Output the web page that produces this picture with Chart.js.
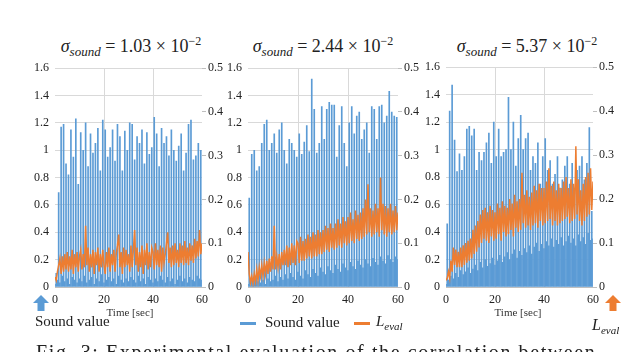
<!DOCTYPE html>
<html>
<head>
<meta charset="utf-8">
<script src="https://cdn.jsdelivr.net/npm/chart.js@4.4.1/dist/chart.umd.min.js"></script>
<style>
  body { margin: 0; width: 640px; height: 352px; overflow: hidden; background: #fff; position: relative; font-family: "Liberation Serif", serif; color: #222; }
  canvas { position: absolute; }
  .title { position: absolute; top: 34px; font-size: 18px; white-space: nowrap; transform: translateX(-50%); }
  .title sub { font-size: 13px; font-style: italic; vertical-align: -4px; }
  .title sup { font-size: 12px; vertical-align: 7px; }
  .xlabel { position: absolute; top: 306px; font-size: 11px; transform: translateX(-50%); color: #333; }
  .txt { position: absolute; white-space: nowrap; }
  .swatch { position: absolute; height: 3px; width: 16px; }
</style>
</head>
<body>

<div class="title" style="left:131px"><i>σ</i><sub>sound</sub> = 1.03 × 10<sup>−2</sup></div>
<div class="title" style="left:323px"><i>σ</i><sub>sound</sub> = 2.44 × 10<sup>−2</sup></div>
<div class="title" style="left:527px"><i>σ</i><sub>sound</sub> = 5.37 × 10<sup>−2</sup></div>

<canvas id="c1" width="219" height="256" style="left:19px; top:55px"></canvas>
<canvas id="c2" width="222" height="256" style="left:212px; top:55px"></canvas>
<canvas id="c3" width="219" height="257" style="left:410px; top:54px"></canvas>

<div class="xlabel" style="left:130px">Time [sec]</div>
<div class="xlabel" style="left:518px">Time [sec]</div>

<svg class="txt" style="left:32px; top:294px" width="18" height="18">
  <polygon points="9,1 17,9 12.5,9 12.5,17 5.5,17 5.5,9 1,9" fill="#5b9bd5"/>
</svg>
<div class="txt" style="left:35px; top:313px; font-size:15px">Sound value</div>

<div class="swatch" style="left:240px; top:322px; background:#5b9bd5"></div>
<div class="txt" style="left:265px; top:314px; font-size:15px">Sound value</div>
<div class="swatch" style="left:354px; top:322px; background:#ed7d31"></div>
<div class="txt" style="left:376px; top:313px; font-size:15px"><i>L</i><sub style="font-size:11px"><i>eval</i></sub></div>

<svg class="txt" style="left:604px; top:294px" width="18" height="18">
  <polygon points="9,1 17,9 12.5,9 12.5,17 5.5,17 5.5,9 1,9" fill="#ed7d31"/>
</svg>
<div class="txt" style="left:592px; top:316px; font-size:16px"><i>L</i><sub style="font-size:11px"><i>eval</i></sub></div>

<div class="txt" style="left:36px; top:341px; font-size:20px; letter-spacing:1.6px">Fig. 3: Experimental evaluation of the correlation between</div>

<script>
// sound value: small values at every full second, peaks in between (left axis)
const soundLows1 = [0.02, 0.05, 0.03, 0.08, 0.04, 0.06, 0.02, 0.07, 0.05, 0.03,
  0.06, 0.04, 0.08, 0.03, 0.05, 0.07, 0.02, 0.06, 0.04, 0.09,
  0.03, 0.05, 0.07, 0.04, 0.06, 0.02, 0.08, 0.05, 0.03, 0.06,
  0.04, 0.07, 0.05, 0.03, 0.08, 0.04, 0.06, 0.02, 0.07, 0.05,
  0.03, 0.06, 0.04, 0.08, 0.05, 0.03, 0.07, 0.04, 0.06, 0.02,
  0.05, 0.08, 0.04, 0.06, 0.03, 0.07, 0.05, 0.04, 0.08, 0.06, 0.05];
const soundPeaks1 = [0.1, 0.69, 1.17, 1.19, 0.9, 0.82, 1.15, 0.95, 1.23, 0.75,
  1.13, 1.0, 1.2, 0.88, 1.12, 0.98, 1.05, 1.16, 0.85, 1.22,
  1.15, 0.95, 1.02, 1.15, 0.92, 1.19, 1.1, 0.85, 1.14, 1.0,
  1.2, 1.19, 0.93, 1.1, 1.05, 1.15, 0.9, 1.13, 0.97, 1.02,
  1.24, 1.12, 0.88, 1.16, 1.05, 1.1, 0.96, 1.15, 1.0, 0.92,
  1.03, 1.12, 0.85, 0.98, 1.19, 1.22, 0.93, 0.96, 1.05, 1.0];

const soundLows2 = [0.02, 0.01, 0.03, 0.02, 0.04, 0.03, 0.05, 0.02, 0.06, 0.04,
  0.05, 0.08, 0.04, 0.07, 0.05, 0.09, 0.06, 0.1, 0.07, 0.05,
  0.11, 0.08, 0.06, 0.12, 0.09, 0.07, 0.13, 0.1, 0.08, 0.14,
  0.11, 0.09, 0.15, 0.12, 0.1, 0.16, 0.13, 0.11, 0.17, 0.14,
  0.12, 0.18, 0.15, 0.13, 0.19, 0.16, 0.14, 0.2, 0.17, 0.15,
  0.21, 0.18, 0.16, 0.22, 0.19, 0.17, 0.23, 0.2, 0.18, 0.22, 0.2];
const soundPeaks2 = [0.65, 0.97, 1.0, 0.85, 0.88, 1.05, 1.19, 1.22, 1.0, 1.05,
  1.12, 0.98, 1.15, 1.2, 1.0, 0.9, 1.08, 1.05, 1.0, 0.95,
  1.12, 0.97, 1.06, 1.18, 0.99, 1.52, 1.3, 0.98, 1.05, 1.32,
  1.08, 1.3, 1.35, 1.33, 1.33, 0.95, 1.18, 1.32, 1.05, 0.88,
  1.2, 1.32, 1.12, 1.25, 1.28, 1.08, 1.15, 1.2, 0.98, 1.32,
  1.3, 1.08, 1.32, 1.33, 1.2, 1.25, 1.43, 1.28, 1.25, 1.24];

const soundLows3 = [0.02, 0.05, 0.08, 0.06, 0.1, 0.07, 0.12, 0.09, 0.11, 0.14,
  0.1, 0.13, 0.16, 0.12, 0.18, 0.14, 0.2, 0.15, 0.17, 0.21,
  0.16, 0.19, 0.23, 0.18, 0.22, 0.25, 0.2, 0.24, 0.27, 0.21,
  0.26, 0.23, 0.28, 0.25, 0.3, 0.24, 0.29, 0.32, 0.26, 0.31,
  0.28, 0.33, 0.3, 0.35, 0.29, 0.34, 0.31, 0.36, 0.3, 0.33,
  0.37, 0.32, 0.35, 0.3, 0.38, 0.33, 0.36, 0.31, 0.39, 0.34, 0.35];
const soundPeaks3 = [0.46, 1.28, 1.47, 1.07, 0.84, 0.97, 0.85, 0.95, 1.15, 1.17,
  1.1, 1.15, 0.85, 0.98, 0.92, 0.98, 1.05, 1.12, 0.9, 1.2,
  0.95, 1.15, 0.95, 0.98, 1.0, 1.38, 1.0, 1.2, 0.88, 1.08,
  1.25, 1.0, 1.08, 1.12, 0.85, 0.95, 0.9, 1.05, 0.75, 0.95,
  1.08, 0.85, 0.92, 0.75, 0.82, 0.95, 0.72, 0.78, 0.88, 0.95,
  0.75, 0.9, 0.72, 0.85, 0.88, 0.95, 0.78, 0.9, 1.16, 0.55];

// L_eval every 0.5 sec (right axis)
const lEval1 = [0.023, 0.015, 0.035, 0.05, 0.065, 0.03, 0.07, 0.035, 0.075, 0.04,
  0.08, 0.035, 0.07, 0.04, 0.085, 0.03, 0.075, 0.045, 0.08, 0.035,
  0.07, 0.085, 0.04, 0.075, 0.045, 0.14, 0.05, 0.09, 0.035, 0.075,
  0.045, 0.085, 0.03, 0.08, 0.05, 0.09, 0.035, 0.075, 0.045, 0.085,
  0.05, 0.03, 0.08, 0.045, 0.09, 0.035, 0.075, 0.05, 0.085, 0.035,
  0.075, 0.095, 0.12, 0.045, 0.08, 0.03, 0.09, 0.045, 0.085, 0.05,
  0.075, 0.035, 0.095, 0.045, 0.085, 0.13, 0.05, 0.09, 0.035, 0.08,
  0.045, 0.095, 0.03, 0.085, 0.05, 0.1, 0.04, 0.08, 0.045, 0.09,
  0.08, 0.04, 0.1, 0.05, 0.085, 0.045, 0.095, 0.035, 0.09, 0.055,
  0.075, 0.1, 0.125, 0.055, 0.09, 0.045, 0.095, 0.05, 0.1, 0.055,
  0.085, 0.045, 0.1, 0.055, 0.095, 0.05, 0.105, 0.055, 0.09, 0.05,
  0.1, 0.06, 0.095, 0.055, 0.11, 0.065, 0.105, 0.07, 0.13, 0.075, 0.1];

const lEval2 = [0.08, 0.03, 0.01, 0.025, 0.008, 0.03, 0.012, 0.04, 0.015, 0.045,
  0.025, 0.05, 0.025, 0.055, 0.03, 0.06, 0.03, 0.065, 0.035, 0.07,
  0.04, 0.14, 0.04, 0.07, 0.045, 0.075, 0.04, 0.08, 0.05, 0.085,
  0.05, 0.095, 0.045, 0.09, 0.05, 0.1, 0.055, 0.095, 0.05, 0.105,
  0.1, 0.055, 0.115, 0.06, 0.105, 0.06, 0.11, 0.065, 0.12, 0.07,
  0.115, 0.065, 0.125, 0.07, 0.12, 0.07, 0.13, 0.075, 0.125, 0.075,
  0.13, 0.08, 0.14, 0.085, 0.135, 0.08, 0.145, 0.09, 0.135, 0.085,
  0.145, 0.09, 0.155, 0.095, 0.145, 0.09, 0.16, 0.1, 0.15, 0.095,
  0.16, 0.1, 0.17, 0.105, 0.155, 0.1, 0.175, 0.11, 0.165, 0.105,
  0.17, 0.11, 0.18, 0.115, 0.2, 0.12, 0.235, 0.125, 0.18, 0.115,
  0.175, 0.12, 0.19, 0.125, 0.18, 0.115, 0.25, 0.13, 0.19, 0.12,
  0.185, 0.115, 0.18, 0.125, 0.19, 0.12, 0.175, 0.125, 0.185, 0.13, 0.17];

const lEval3 = [0.015, 0.02, 0.035, 0.02, 0.06, 0.035, 0.09, 0.05, 0.085, 0.045,
  0.08, 0.045, 0.09, 0.045, 0.095, 0.05, 0.1, 0.055, 0.105, 0.06,
  0.11, 0.065, 0.13, 0.075, 0.14, 0.08, 0.15, 0.09, 0.165, 0.1,
  0.175, 0.11, 0.18, 0.105, 0.17, 0.1, 0.185, 0.115, 0.175, 0.105,
  0.17, 0.11, 0.19, 0.12, 0.18, 0.105, 0.195, 0.125, 0.185, 0.115,
  0.18, 0.12, 0.2, 0.13, 0.19, 0.115, 0.21, 0.135, 0.195, 0.125,
  0.2, 0.13, 0.26, 0.145, 0.21, 0.135, 0.22, 0.14, 0.205, 0.13,
  0.215, 0.14, 0.23, 0.145, 0.22, 0.135, 0.235, 0.15, 0.225, 0.14,
  0.225, 0.145, 0.24, 0.15, 0.27, 0.155, 0.23, 0.14, 0.24, 0.15,
  0.22, 0.14, 0.235, 0.145, 0.225, 0.15, 0.24, 0.155, 0.25, 0.16,
  0.225, 0.145, 0.245, 0.15, 0.235, 0.155, 0.32, 0.165, 0.245, 0.15,
  0.22, 0.14, 0.235, 0.15, 0.25, 0.16, 0.26, 0.165, 0.27, 0.175, 0.24];

const soundTicks = [0, 0.2, 0.4, 0.6, 0.8, 1, 1.2, 1.4, 1.6];
const evalTicks = [0, 0.1, 0.2, 0.3, 0.4, 0.5];
const timeTicks = [0, 20, 40, 60];

const BLUE = '#5b9bd5';
const ORANGE = '#ed7d31';
Chart.defaults.font.family = "'Liberation Serif', serif";
const tickFont = { family: "'Liberation Serif', serif", size: 12 };

function soundPoints(lows, peaks) {
  const pts = [];
  lows.forEach((v, i) => {
    pts.push({ x: i, y: v });
    if (i < peaks.length) pts.push({ x: i + 0.5, y: peaks[i] });
  });
  return pts;
}

function makePanel(id, lows, peaks, lEval) {
  const ctx = document.getElementById(id).getContext('2d');
  new Chart(ctx, {
    type: 'bar',
    data: {
      datasets: [
        {
          type: 'bar',
          label: 'Sound value',
          data: soundPoints(lows, peaks),
          backgroundColor: BLUE,
          barThickness: 1,
          yAxisID: 'y',
          order: 2
        },
        {
          type: 'line',
          label: 'L_eval',
          data: lEval.map((v, i) => ({ x: i * 0.5, y: v })),
          borderColor: ORANGE,
          borderWidth: 1.5,
          pointRadius: 0,
          yAxisID: 'y1',
          order: 1
        }
      ]
    },
    options: {
      responsive: false,
      animation: false,
      layout: { padding: { top: 10 } },
      plugins: { legend: { display: false }, tooltip: { enabled: false } },
      scales: {
        x: {
          type: 'linear',
          offset: false,
          min: 0, max: 60,
          afterBuildTicks: s => { s.ticks = timeTicks.map(v => ({ value: v })); },
          afterFit: s => { s.height = 24; },
          ticks: { font: tickFont, color: '#222', padding: 6, maxRotation: 0 },
          grid: {
            offset: false,
            drawTicks: false,
            color: c => (c.tick && (c.tick.value === 20 || c.tick.value === 40)) ? '#d9d9d9' : 'rgba(0,0,0,0)'
          },
          border: { display: true, color: '#bfbfbf' }
        },
        y: {
          position: 'left',
          min: 0, max: 1.6,
          afterBuildTicks: s => { s.ticks = soundTicks.map(v => ({ value: v })); },
          afterFit: s => { s.width = 36; },
          ticks: { font: tickFont, color: '#222', padding: 6, callback: v => String(+v.toFixed(1)) },
          grid: { drawTicks: false, color: '#d9d9d9' },
          border: { display: false }
        },
        y1: {
          position: 'right',
          min: 0, max: 0.5,
          afterBuildTicks: s => { s.ticks = evalTicks.map(v => ({ value: v })); },
          afterFit: s => { s.width = 36; },
          ticks: { font: tickFont, color: '#222', padding: 2, callback: v => String(+v.toFixed(1)) },
          grid: { drawOnChartArea: false, drawTicks: true, tickLength: 4, color: '#bfbfbf' },
          border: { display: false }
        }
      }
    }
  });
}

makePanel('c1', soundLows1, soundPeaks1, lEval1);
makePanel('c2', soundLows2, soundPeaks2, lEval2);
makePanel('c3', soundLows3, soundPeaks3, lEval3);
</script>
</body>
</html>
